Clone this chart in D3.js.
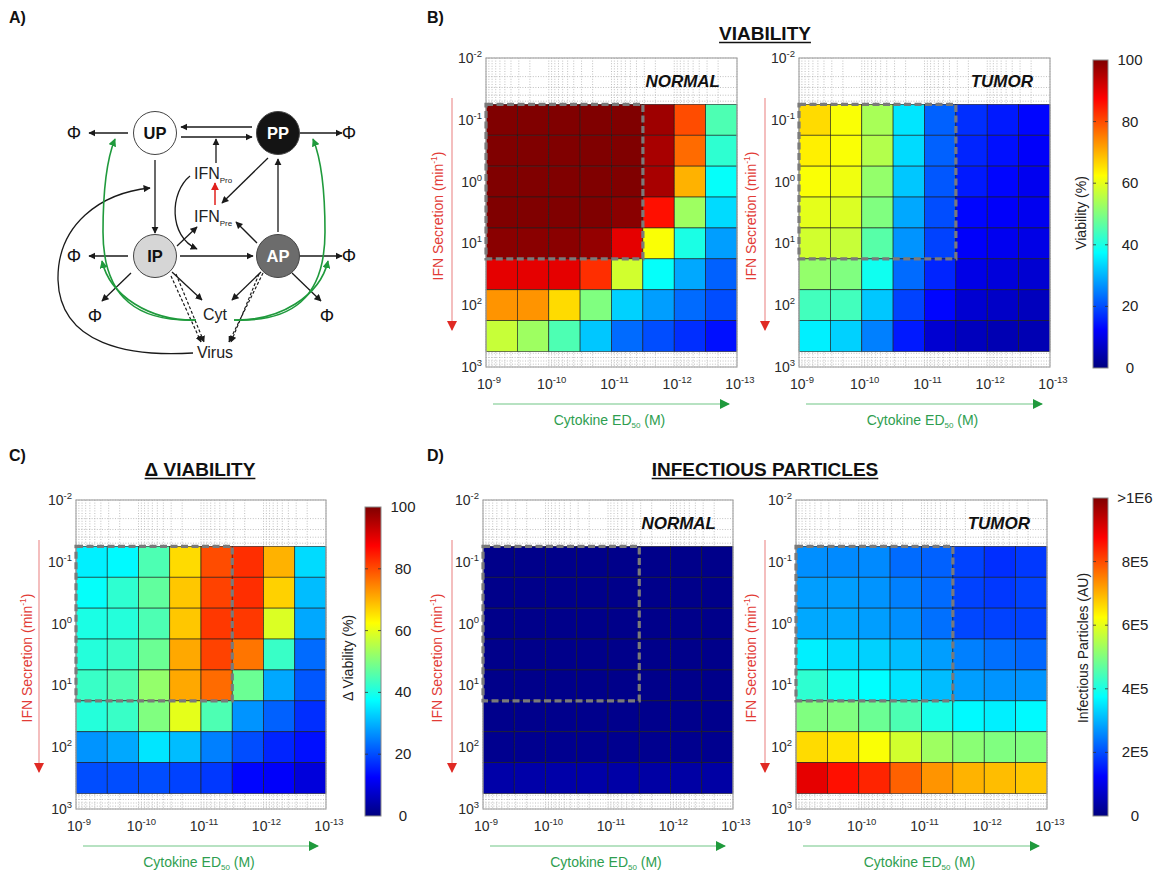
<!DOCTYPE html>
<html><head><meta charset="utf-8">
<script src="https://cdn.jsdelivr.net/npm/d3@7"></script>
<style>
body{margin:0;background:#fff}
svg{display:block;font-family:"Liberation Sans",Arial,Helvetica,sans-serif}
</style>
</head><body>
<svg id="fig" width="1156" height="876"></svg>
<script>
// ---------------- DATA ----------------
const cytokineED50 = [5.62e-10, 1.78e-10, 5.62e-11, 1.78e-11, 5.62e-12, 1.78e-12, 5.62e-13, 1.78e-13]; // M (column centres)
const ifnSecretion = [0.1, 0.316, 1, 3.16, 10, 31.6, 100, 316]; // min^-1 (row centres)
const yTickValues = [1e-2, 1e-1, 1e0, 1e1, 1e2, 1e3];
const xTickValues = [1e-9, 1e-10, 1e-11, 1e-12, 1e-13];
const viabilityTicks = [0, 20, 40, 60, 80, 100];
const particleTicks = [0, 2e5, 4e5, 6e5, 8e5, 1e6];
const particleTickLabels = ["0", "2E5", "4E5", "6E5", "8E5", ">1E6"];

// Viability (%) – normal cells, rows = IFN secretion (top→bottom), cols = cytokine ED50 (left→right)
const viabilityNormal = [
  [100, 100, 100, 100, 100, 97, 80, 45],
  [100, 100, 100, 100, 100, 96, 77, 42],
  [100, 100, 100, 100, 100, 96, 70, 38],
  [100, 100, 100, 100, 99, 86, 53, 34],
  [99, 99, 99, 98, 90, 62, 40, 28],
  [90, 90, 90, 83, 58, 38, 29, 22],
  [73, 73, 66, 50, 33, 28, 23, 20],
  [57, 53, 45, 32, 23, 20, 17, 14]
];
// Viability (%) – tumor cells
const viabilityTumor = [
  [66, 62, 54, 35, 22, 17, 15, 13],
  [64, 62, 55, 34, 22, 16, 14, 12],
  [62, 61, 52, 32, 21, 15, 13, 11],
  [60, 59, 50, 29, 20, 13, 12, 11],
  [58, 57, 46, 27, 19, 12, 11, 10],
  [52, 50, 39, 23, 16, 10, 9, 8],
  [44, 44, 32, 19, 13, 8, 7, 6],
  [36, 33, 25, 15, 8, 6, 5, 5]
];
// Delta viability (%)
const deltaViability = [
  [36, 37, 45, 66, 80, 83, 70, 34],
  [38, 42, 47, 68, 81, 83, 67, 31],
  [40, 41, 45, 68, 82, 82, 59, 29],
  [41, 43, 48, 71, 81, 76, 43, 23],
  [43, 45, 52, 71, 77, 48, 29, 21],
  [41, 43, 50, 60, 45, 27, 22, 17],
  [27, 29, 35, 31, 25, 20, 16, 14],
  [20, 20, 20, 19, 18, 13, 12, 9]
];
// Infectious particles (AU) – normal
const particlesNormal = [
  [1.0e4, 1.0e4, 1.0e4, 1.0e4, 1.0e4, 1.0e4, 1.0e4, 1.0e4],
  [1.0e4, 1.0e4, 1.0e4, 1.0e4, 1.0e4, 1.0e4, 1.0e4, 1.0e4],
  [1.0e4, 1.0e4, 1.0e4, 1.0e4, 1.0e4, 1.0e4, 1.0e4, 1.0e4],
  [1.0e4, 1.0e4, 1.0e4, 1.0e4, 1.0e4, 1.0e4, 1.0e4, 1.0e4],
  [1.0e4, 1.0e4, 1.0e4, 1.0e4, 1.0e4, 1.0e4, 1.0e4, 1.0e4],
  [1.2e4, 1.2e4, 1.2e4, 1.2e4, 1.2e4, 1.2e4, 1.2e4, 1.2e4],
  [1.5e4, 1.5e4, 1.5e4, 1.5e4, 1.5e4, 1.5e4, 1.5e4, 1.5e4],
  [4.0e4, 4.0e4, 4.0e4, 4.0e4, 3.8e4, 3.6e4, 3.6e4, 3.6e4]
];
// Infectious particles (AU) – tumor
const particlesTumor = [
  [2.65e5, 2.6e5, 2.6e5, 2.3e5, 2.2e5, 1.9e5, 1.7e5, 1.8e5],
  [2.8e5, 2.8e5, 2.7e5, 2.5e5, 2.3e5, 1.9e5, 1.8e5, 1.9e5],
  [2.9e5, 2.9e5, 2.8e5, 2.65e5, 2.35e5, 1.95e5, 1.9e5, 1.9e5],
  [3.6e5, 3.4e5, 3.3e5, 3.1e5, 2.8e5, 2.5e5, 2.35e5, 2.25e5],
  [4.2e5, 3.9e5, 3.75e5, 3.5e5, 3.1e5, 2.8e5, 2.7e5, 2.7e5],
  [5.0e5, 5.0e5, 4.8e5, 4.5e5, 4.0e5, 3.7e5, 3.6e5, 3.7e5],
  [6.6e5, 6.5e5, 6.2e5, 5.8e5, 5.3e5, 5.1e5, 5.0e5, 5.0e5],
  [9.0e5, 8.6e5, 8.4e5, 7.8e5, 7.3e5, 7.0e5, 6.9e5, 6.8e5]
];

// ---------------- HELPERS ----------------
const clamp = v => Math.max(0, Math.min(1, v));
function jet(t) {
  t = clamp(t);
  const r = clamp(Math.min(4 * t - 1.5, -4 * t + 4.5));
  const g = clamp(Math.min(4 * t - 0.5, -4 * t + 3.5));
  const b = clamp(Math.min(4 * t + 0.5, -4 * t + 2.5));
  return d3.rgb(r * 255, g * 255, b * 255).formatHex();
}
const viabColor = d3.scaleSequential(jet).domain([0, 100]).clamp(true);
const partColor = d3.scaleSequential(jet).domain([0, 1e6]).clamp(true);

const svg = d3.select("#fig");
const defs = svg.append("defs");
function marker(id, color, w, h, units) {
  const m = defs.append("marker").attr("id", id)
    .attr("viewBox", "0 0 10 10").attr("refX", 9).attr("refY", 5)
    .attr("markerWidth", w).attr("markerHeight", h)
    .attr("orient", "auto-start-reverse");
  if (units) m.attr("markerUnits", "userSpaceOnUse");
  m.append("path").attr("d", "M0,0L10,5L0,10z").attr("fill", color);
}
marker("ah", "#1a1a1a", 5.5, 5.5);
marker("ahRed", "#e0201c", 5.5, 5.5);
marker("ahGreen", "#1f9a3c", 5, 5);
marker("axRed", "#e02a24", 11, 10, true);
marker("axGreen", "#1f9a3c", 11, 10, true);

// gradient for colorbars
const grad = defs.append("linearGradient").attr("id", "jetGrad")
  .attr("x1", 0).attr("y1", 1).attr("x2", 0).attr("y2", 0);
d3.range(0, 1.0001, 0.025).forEach(t => grad.append("stop").attr("offset", t).attr("stop-color", jet(t)));

// ---------------- PANEL LABELS & TITLES ----------------
const labels = [["A)", 9, 23], ["B)", 427, 23], ["C)", 9, 461], ["D)", 427, 461]];
svg.selectAll("text.plabel").data(labels).join("text").attr("class", "plabel")
  .attr("x", d => d[1]).attr("y", d => d[2]).text(d => d[0])
  .attr("font-size", 16).attr("font-weight", "bold").attr("fill", "#111");

function title(txt, cx, by) {
  const t = svg.append("text").attr("x", cx).attr("y", by).attr("text-anchor", "middle")
    .attr("font-size", 19).attr("font-weight", "bold").attr("fill", "#111").text(txt);
  const w = t.node().getComputedTextLength();
  svg.append("line").attr("x1", cx - w / 2).attr("x2", cx + w / 2)
    .attr("y1", by + 2.5).attr("y2", by + 2.5).attr("stroke", "#111").attr("stroke-width", 1.6);
}
title("VIABILITY", 765, 40);
title("\u0394 VIABILITY", 200, 476);
title("INFECTIOUS PARTICLES", 765, 476);

// ---------------- HEATMAP PANELS ----------------
const half = Math.pow(10, 0.25);
function heatmap(p) {
  const g = svg.append("g");
  const x = d3.scaleLog().domain([1e-9, 1e-13]).range([p.x0, p.x1]);
  const y = d3.scaleLog().domain([1e-2, 1e3]).range([p.y0, p.y1]);
  // background + dotted minor grid
  g.append("rect").attr("x", p.x0).attr("y", p.y0).attr("width", p.x1 - p.x0).attr("height", p.y1 - p.y0).attr("fill", "#fff");
  g.selectAll("line.gx").data(x.ticks()).join("line").attr("class", "gx")
    .attr("x1", d => x(d)).attr("x2", d => x(d)).attr("y1", p.y0).attr("y2", p.y1)
    .attr("stroke", "#b0b0b0").attr("stroke-width", 0.8).attr("stroke-dasharray", "1,1.6");
  g.selectAll("line.gy").data(y.ticks()).join("line").attr("class", "gy")
    .attr("y1", d => y(d)).attr("y2", d => y(d)).attr("x1", p.x0).attr("x2", p.x1)
    .attr("stroke", "#b0b0b0").attr("stroke-width", 0.8).attr("stroke-dasharray", "1,1.6");
  // cells
  const cells = p.data.flatMap((row, i) => row.map((v, j) => ({ i, j, v })));
  g.selectAll("rect.cell").data(cells).join("rect").attr("class", "cell")
    .attr("x", d => x(cytokineED50[d.j] * half))
    .attr("width", d => x(cytokineED50[d.j] / half) - x(cytokineED50[d.j] * half))
    .attr("y", d => y(ifnSecretion[d.i] / half))
    .attr("height", d => y(ifnSecretion[d.i] * half) - y(ifnSecretion[d.i] / half))
    .attr("fill", d => p.color(d.v))
    .attr("stroke", "#1a1a1a").attr("stroke-width", 0.7).attr("stroke-opacity", 0.85);
  // box
  g.append("rect").attr("x", p.x0).attr("y", p.y0).attr("width", p.x1 - p.x0).attr("height", p.y1 - p.y0)
    .attr("fill", "none").attr("stroke", "#a8a8a8").attr("stroke-width", 1.2);
  // dashed highlight box (first 5 columns × first 5 rows)
  const bx0 = x(cytokineED50[0] * half), bx1 = x(cytokineED50[4] / half);
  const by0 = y(ifnSecretion[0] / half), by1 = y(ifnSecretion[4] * half);
  g.append("rect").attr("x", bx0).attr("y", by0).attr("width", bx1 - bx0).attr("height", by1 - by0)
    .attr("fill", "none").attr("stroke", "#7a7a7a").attr("stroke-width", 3.2).attr("stroke-dasharray", "7,3.5");
  // tag
  if (p.tag) g.append("text").attr("x", p.x1 - 17).attr("y", p.y0 + 29).attr("text-anchor", "end")
    .attr("font-size", 17).attr("font-weight", "bold").attr("font-style", "italic").attr("fill", "#111").text(p.tag);
  // y tick labels
  const yt = g.selectAll("text.yt").data(yTickValues).join("text").attr("class", "yt")
    .attr("x", p.x0 - 4).attr("y", d => y(d) + 5).attr("text-anchor", "end")
    .attr("font-size", 14).attr("fill", "#2a2a2a");
  yt.append("tspan").text("10");
  yt.append("tspan").attr("dy", -6).attr("font-size", 9.5).text(d => Math.round(Math.log10(d)));
  // x tick labels
  const xt = g.selectAll("text.xt").data(xTickValues).join("text").attr("class", "xt")
    .attr("x", d => x(d) + 3).attr("y", p.y1 + 22).attr("text-anchor", "middle")
    .attr("font-size", 14).attr("fill", "#2a2a2a");
  xt.append("tspan").text("10");
  xt.append("tspan").attr("dy", -6).attr("font-size", 9.5).text(d => Math.round(Math.log10(d)));
  // y axis label + arrow
  const yl = g.append("text").attr("transform", `translate(${p.yLabelX},${p.y0 + 158}) rotate(-90)`)
    .attr("text-anchor", "middle").attr("dy", "0.35em").attr("font-size", 14).attr("fill", "#e23b36");
  yl.append("tspan").text("IFN Secretion (min");
  yl.append("tspan").attr("dy", -6).attr("font-size", 8.5).text("-1");
  yl.append("tspan").attr("dy", 6).text(")");
  g.append("line").attr("x1", p.arrowX).attr("x2", p.arrowX).attr("y1", p.y0 + 40).attr("y2", p.y0 + 272)
    .attr("stroke", "#f0a8a8").attr("stroke-width", 1.5).attr("marker-end", "url(#axRed)");
  // x axis label + arrow
  g.append("line").attr("x1", p.x0 + 7).attr("x2", p.x1 - 8).attr("y1", p.y1 + 37).attr("y2", p.y1 + 37)
    .attr("stroke", "#9fd8ae").attr("stroke-width", 1.5).attr("marker-end", "url(#axGreen)");
  const xl = g.append("text").attr("x", (p.x0 + p.x1) / 2 - 2).attr("y", p.y1 + 58).attr("text-anchor", "middle")
    .attr("font-size", 14).attr("fill", "#2e9e50");
  xl.append("tspan").text("Cytokine ED");
  xl.append("tspan").attr("dy", 3).attr("font-size", 8).text("50");
  xl.append("tspan").attr("dy", -3).text(" (M)");
}

const panels = [
  { data: viabilityNormal, color: viabColor, x0: 486, x1: 737, y0: 58, y1: 367, tag: "NORMAL", yLabelX: 438, arrowX: 452 },
  { data: viabilityTumor, color: viabColor, x0: 799, x1: 1050, y0: 58, y1: 367, tag: "TUMOR", yLabelX: 751, arrowX: 765 },
  { data: deltaViability, color: viabColor, x0: 76, x1: 326, y0: 500, y1: 809, tag: null, yLabelX: 27, arrowX: 39 },
  { data: particlesNormal, color: partColor, x0: 483, x1: 733, y0: 500, y1: 809, tag: "NORMAL", yLabelX: 437, arrowX: 452 },
  { data: particlesTumor, color: partColor, x0: 796, x1: 1047, y0: 500, y1: 809, tag: "TUMOR", yLabelX: 751, arrowX: 765 }
];
panels.forEach(heatmap);

// ---------------- COLORBARS ----------------
function colorbar(c) {
  const g = svg.append("g");
  const s = d3.scaleLinear().domain(c.domain).range([c.y1, c.y0]);
  g.append("rect").attr("x", c.x).attr("y", c.y0).attr("width", c.w).attr("height", c.y1 - c.y0)
    .attr("fill", "url(#jetGrad)").attr("stroke", "#8a8a8a").attr("stroke-width", 1);
  g.selectAll("line.t1").data(c.ticks.slice(1, -1)).join("line")
    .attr("x1", c.x).attr("x2", c.x + 3).attr("y1", d => s(d)).attr("y2", d => s(d)).attr("stroke", "#333").attr("stroke-width", 0.8);
  g.selectAll("line.t2").data(c.ticks.slice(1, -1)).join("line")
    .attr("x1", c.x + c.w - 3).attr("x2", c.x + c.w).attr("y1", d => s(d)).attr("y2", d => s(d)).attr("stroke", "#333").attr("stroke-width", 0.8);
  g.selectAll("text.cl").data(c.ticks).join("text")
    .attr("x", c.labelX).attr("y", d => s(d) + 5).attr("text-anchor", "middle")
    .attr("font-size", 15).attr("fill", "#222").text((d, i) => c.labels[i]);
  g.append("text").attr("transform", `translate(${c.titleX},${c.titleY}) rotate(-90)`)
    .attr("text-anchor", "middle").attr("dy", "0.35em").attr("font-size", 14).attr("fill", "#222").text(c.title);
}
colorbar({ x: 1093, w: 15, y0: 60, y1: 368, domain: [0, 100], ticks: viabilityTicks, labels: viabilityTicks.map(String), labelX: 1130, title: "Viability (%)", titleX: 1081, titleY: 213 });
colorbar({ x: 365, w: 16, y0: 507, y1: 816, domain: [0, 100], ticks: viabilityTicks, labels: viabilityTicks.map(String), labelX: 403, title: "\u0394 Viability (%)", titleX: 348, titleY: 658 });
colorbar({ x: 1093, w: 15, y0: 498, y1: 816, domain: [0, 1e6], ticks: particleTicks, labels: particleTickLabels, labelX: 1135, title: "Infectious Particles (AU)", titleX: 1083, titleY: 648 });

// ---------------- PANEL A : MODEL SCHEMATIC ----------------
const A = svg.append("g");
const nodes = [
  { id: "UP", x: 155, y: 133, fill: "#ffffff", tc: "#111" },
  { id: "PP", x: 278, y: 133, fill: "#141414", tc: "#fff" },
  { id: "IP", x: 155, y: 256, fill: "#d6d6d6", tc: "#111" },
  { id: "AP", x: 278, y: 256, fill: "#6c6c6c", tc: "#fff" }
];
const straight = [
  [128, 133, 89, 133], [300, 133, 342, 133], [128, 256, 89, 256], [300, 256, 342, 256],
  [252, 127, 181, 127], [181, 137, 252, 137], [216, 163, 216, 139],
  [268, 158, 222, 203], [278, 232, 278, 159], [257, 243, 236, 222], [177, 246, 197, 227],
  [180, 256, 253, 256], [155, 160, 155, 233],
  [131, 273, 102, 301], [292, 273, 321, 301],
  [172, 272, 202, 300], [261, 272, 232, 300]
];
const dashed = [[171, 276, 201, 342], [176, 274, 204, 342], [259, 274, 231, 342], [263, 273, 229, 342]];
const curvesBlack = [
  "M190,176 C170,192 168,236 197,249",
  "M193,353 C130,357 60,345 58,280 C57,225 100,193 150,188"
];
const curvesGreen = [
  "M196,320 C140,322 103,300 103,232 C103,182 108,156 115,139",
  "M196,320 C150,321 110,296 102,261",
  "M234,320 C290,322 325,300 325,232 C325,182 320,156 313,139",
  "M234,320 C280,321 320,296 328,261"
];
A.selectAll("line.s").data(straight).join("line")
  .attr("x1", d => d[0]).attr("y1", d => d[1]).attr("x2", d => d[2]).attr("y2", d => d[3])
  .attr("stroke", "#1a1a1a").attr("stroke-width", 1.3).attr("marker-end", "url(#ah)");
A.selectAll("line.d").data(dashed).join("line")
  .attr("x1", d => d[0]).attr("y1", d => d[1]).attr("x2", d => d[2]).attr("y2", d => d[3])
  .attr("stroke", "#1a1a1a").attr("stroke-width", 1.2).attr("stroke-dasharray", "3,2").attr("marker-end", "url(#ah)");
A.append("line").attr("x1", 215).attr("y1", 205).attr("x2", 215).attr("y2", 183)
  .attr("stroke", "#e0201c").attr("stroke-width", 1.5).attr("marker-end", "url(#ahRed)");
A.selectAll("path.cb").data(curvesBlack).join("path").attr("d", d => d)
  .attr("fill", "none").attr("stroke", "#1a1a1a").attr("stroke-width", 1.3).attr("marker-end", "url(#ah)");
A.selectAll("path.cg").data(curvesGreen).join("path").attr("d", d => d)
  .attr("fill", "none").attr("stroke", "#1f9a3c").attr("stroke-width", 1.6).attr("marker-end", "url(#ahGreen)");
A.selectAll("circle").data(nodes).join("circle")
  .attr("cx", d => d.x).attr("cy", d => d.y).attr("r", 21.5)
  .attr("fill", d => d.fill).attr("stroke", "#444").attr("stroke-width", 1);
A.selectAll("text.n").data(nodes).join("text")
  .attr("x", d => d.x).attr("y", d => d.y + 6).attr("text-anchor", "middle")
  .attr("font-size", 16.5).attr("font-weight", "bold").attr("fill", d => d.tc).text(d => d.id);
const phis = [[74, 133], [349, 133], [74, 256], [349, 256], [95, 316], [327, 316]];
A.selectAll("text.phi").data(phis).join("text")
  .attr("x", d => d[0]).attr("y", d => d[1] + 6).attr("text-anchor", "middle")
  .attr("font-size", 18).attr("fill", "#111").text("\u03A6");
function ifn(x, y, sub) {
  const t = A.append("text").attr("x", x).attr("y", y).attr("font-size", 16).attr("fill", "#222");
  t.append("tspan").text("IFN");
  t.append("tspan").attr("dy", 4).attr("font-size", 8).text(sub);
}
ifn(194, 179, "Pro");
ifn(194, 222, "Pre");
A.append("text").attr("x", 215).attr("y", 320).attr("text-anchor", "middle").attr("font-size", 16).attr("fill", "#222").text("Cyt");
A.append("text").attr("x", 215).attr("y", 358).attr("text-anchor", "middle").attr("font-size", 16).attr("fill", "#222").text("Virus");
</script>
</body></html>
